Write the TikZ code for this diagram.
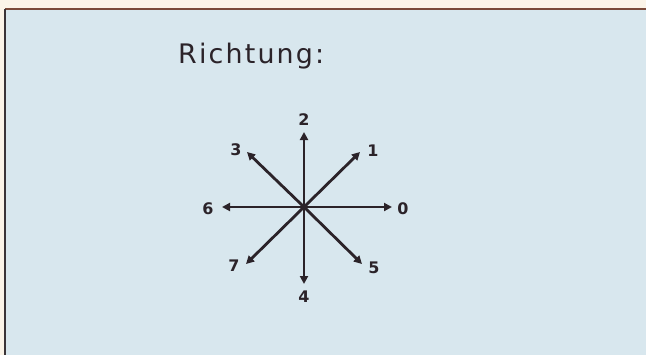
\documentclass[tikz,border=0pt]{standalone}
\usepackage{fontspec}
\setmainfont{DejaVu Sans}
\newfontfamily\titlefont[LetterSpace=8]{DejaVu Sans}
\usetikzlibrary{arrows.meta}
\definecolor{cream}{HTML}{FBF4E8}
\definecolor{panel}{HTML}{D8E7EE}
\definecolor{topline}{HTML}{7A4A3A}
\definecolor{leftline}{HTML}{3A3438}
\definecolor{ink}{HTML}{2B2329}
\tikzset{
  dirarrow/.style={draw=ink, line width=2.8bp, -{Triangle[length=8bp,width=8bp]}},
  dirlabel/.style={font=\bfseries\fontsize{16}{16}\selectfont, text=ink, inner sep=0pt},
}
\begin{document}
\begin{tikzpicture}[x=1bp,y=-1bp]
\useasboundingbox (0,0) rectangle (646,355);
\fill[cream] (0,0) rectangle (646,355);
\fill[panel] (5,9) rectangle (646,355);
\draw[topline, line width=2bp] (5,9) -- (646,9);
\draw[leftline, line width=2bp] (5,9) -- (5,355);
\node[font=\titlefont\fontsize{27}{27}\selectfont, text=ink, anchor=base west, inner sep=0pt] (title) at (178,63) {Richtung:};
\coordinate (c) at (304,207);
\coordinate (t0) at (392,207);
\coordinate (t1) at (360,152);
\coordinate (t2) at (304,132);
\coordinate (t3) at (247,152);
\coordinate (t4) at (304,284);
\coordinate (t5) at (362,264);
\coordinate (t6) at (222,207);
\coordinate (t7) at (246,264);
\foreach \i in {0,...,7} \draw[dirarrow] (c) -- (t\i);
\node[dirlabel] (l0) at (403,209) {0};
\node[dirlabel] (l1) at (373,151) {1};
\node[dirlabel] (l2) at (304,120) {2};
\node[dirlabel] (l3) at (236,150) {3};
\node[dirlabel] (l4) at (304,297) {4};
\node[dirlabel] (l5) at (374,268) {5};
\node[dirlabel] (l6) at (208,209) {6};
\node[dirlabel] (l7) at (234,266) {7};
\end{tikzpicture}
\end{document}
